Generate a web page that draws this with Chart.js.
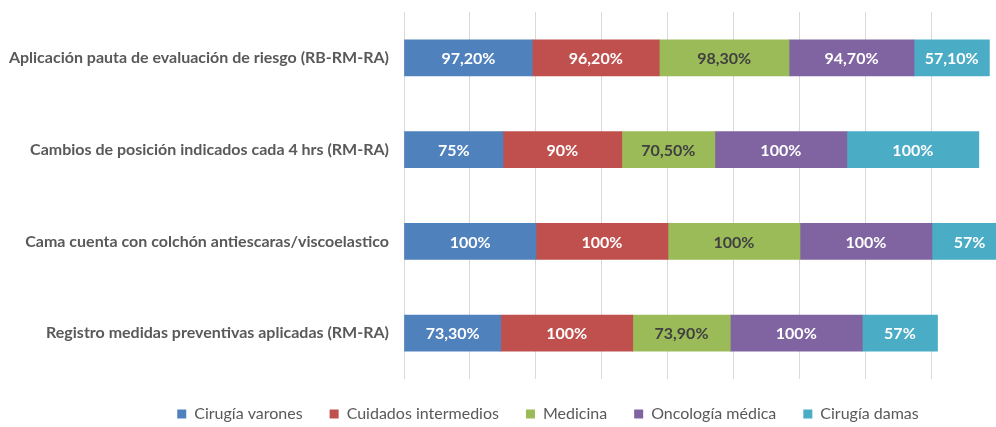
<!DOCTYPE html>
<html>
<head>
<meta charset="utf-8">
<script src="https://cdn.jsdelivr.net/npm/chart.js@4.4.1/dist/chart.umd.min.js"></script>
<style>
html,body{margin:0;padding:0;background:#fff;}
#wrap{width:996px;height:427px;}
</style>
</head>
<body>
<div id="wrap"><canvas id="c" width="996" height="427"></canvas></div>
<script>
const categories = [
  "Aplicación pauta de evaluación de riesgo (RB-RM-RA)",
  "Cambios de posición indicados cada 4 hrs (RM-RA)",
  "Cama cuenta con colchón antiescaras/viscoelastico",
  "Registro medidas preventivas aplicadas (RM-RA)"
];
const seriesNames = ["Cirugía varones", "Cuidados intermedios", "Medicina", "Oncología médica", "Cirugía damas"];
const cirugiaVarones      = [97.2, 75, 100, 73.3];
const cuidadosIntermedios = [96.2, 90, 100, 100];
const medicina            = [98.3, 70.5, 100, 73.9];
const oncologiaMedica     = [94.7, 100, 100, 100];
const cirugiaDamas        = [57.1, 100, 57, 57];
const gridTicks = [0, 50, 100, 150, 200, 250, 300, 350, 400];
const seriesColors = ["#4F81BD", "#C0504D", "#9BBB59", "#8064A2", "#4BACC6"];
const labelColors  = ["#FFFFFF", "#FFFFFF", "#404040", "#FFFFFF", "#FFFFFF"];

const allSeries = [cirugiaVarones, cuidadosIntermedios, medicina, oncologiaMedica, cirugiaDamas];
const FONT = "Lato, 'Noto Sans', sans-serif";

function fmt(v){
  if (Number.isInteger(v)) return v + "%";
  return v.toFixed(2).replace(".", ",") + "%";
}

const valueLabels = {
  id: "valueLabels",
  afterDatasetsDraw(chart){
    const ctx = chart.ctx;
    ctx.save();
    ctx.font = "bold 16px " + FONT;
    ctx.textAlign = "center";
    ctx.textBaseline = "middle";
    chart.data.datasets.forEach((ds, di) => {
      const meta = chart.getDatasetMeta(di);
      meta.data.forEach((el, i) => {
        const cx = (el.x + el.base) / 2;
        ctx.fillStyle = labelColors[di];
        ctx.fillText(fmt(ds.data[i]), cx, el.y + 1);
      });
    });
    ctx.restore();
  }
};

const legendTweak = {
  id: "legendTweak",
  beforeInit(chart){
    const orig = chart.legend.fit;
    chart.legend.fit = function(){
      orig.call(this);
      this.height = 48;
    };
  },
  afterLayout(chart){
    chart.legend.left += 100;
  }
};

new Chart(document.getElementById("c"), {
  type: "bar",
  data: {
    labels: categories,
    datasets: allSeries.map((d, i) => ({
      label: seriesNames[i],
      data: d,
      backgroundColor: seriesColors[i],
      borderWidth: 0,
      barThickness: 36
    }))
  },
  options: {
    indexAxis: "y",
    responsive: false,
    devicePixelRatio: 1,
    animation: false,
    layout: { padding: { top: 12, left: 0, right: 0, bottom: 0 } },
    scales: {
      x: {
        stacked: true,
        min: 0,
        max: 448.5,
        ticks: { display: false },
        afterBuildTicks(scale){ scale.ticks = gridTicks.map(v => ({ value: v })); },
        grid: { drawTicks: false, lineWidth: 1, color: "#D9D9D9" },
        border: { display: false },
        afterFit(scale){ scale.height = 0; }
      },
      y: {
        stacked: true,
        grid: { display: false, drawTicks: false },
        border: { display: false },
        ticks: {
          padding: 15,
          color: "#595959",
          font: { family: FONT, size: 16, weight: "bold" }
        },
        afterFit(scale){ scale.width = 404; scale.paddingTop = 0; scale.paddingBottom = 0; }
      }
    },
    plugins: {
      legend: {
        position: "bottom",
        labels: {
          boxWidth: 9,
          boxHeight: 9,
          padding: 27,
          color: "#595959",
          font: { family: FONT, size: 16 }
        }
      },
      tooltip: { enabled: false }
    }
  },
  plugins: [valueLabels, legendTweak]
});
</script>
</body>
</html>
